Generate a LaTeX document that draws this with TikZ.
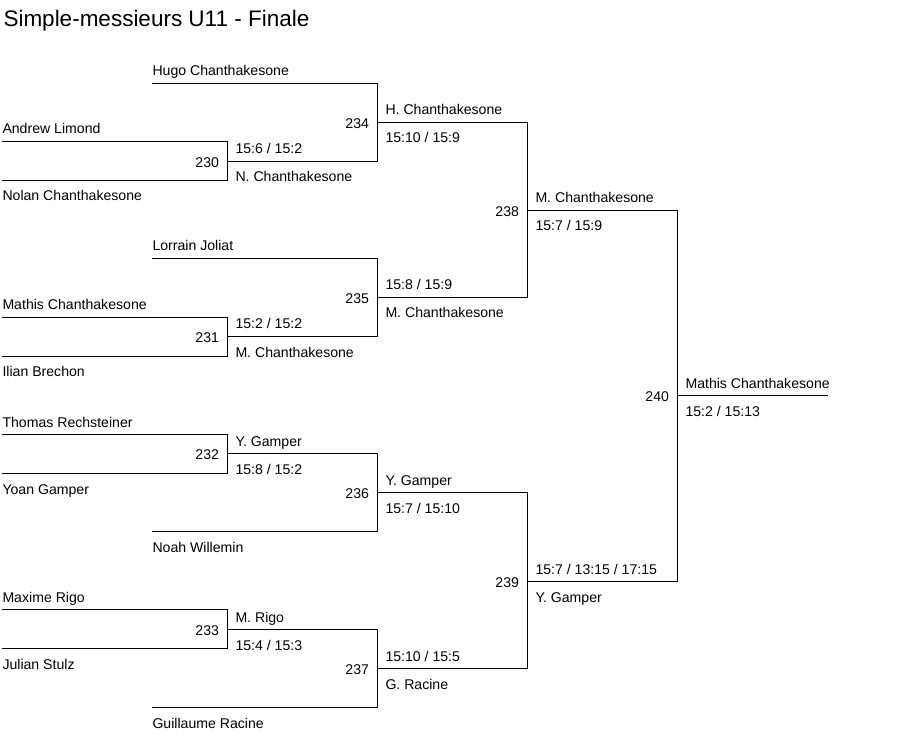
\documentclass[tikz,border=0pt]{standalone}
\usepackage{fontspec}
\setmainfont{Liberation Sans}
\usetikzlibrary{positioning}

\begin{document}
\begin{tikzpicture}[x=1pt,y=-1pt,line width=1pt,
    lbl/.style={inner sep=0pt,text height=10pt,text depth=0pt,font=\fontsize{14.1}{16}\selectfont},
    num/.style={lbl,yshift=-1pt},
    elbow/.style={to path={-| (\tikztotarget)}}]
  \useasboundingbox (0,0) rectangle (903,738);
  \node[anchor=base west,inner sep=0pt,font=\fontsize{22.5}{26}\selectfont] (title) at (3,26.5) {Simple-messieurs U11 - Finale};

  % players
  \coordinate (hugo) at (152,83.5);
  \coordinate (andrew) at (2,141.5);
  \coordinate (nolan) at (2,180.5);
  \coordinate (lorrain) at (152,258.5);
  \coordinate (mathis) at (2,317.5);
  \coordinate (ilian) at (2,356.5);
  \coordinate (thomas) at (2,434.5);
  \coordinate (yoan) at (2,473.5);
  \coordinate (noah) at (152,531.5);
  \coordinate (maxime) at (2,609.5);
  \coordinate (julian) at (2,648.5);
  \coordinate (guillaume) at (152,707.5);

  % matches
  \coordinate (m230) at (227.5,161.5);
  \coordinate (m231) at (227.5,336.5);
  \coordinate (m232) at (227.5,453.5);
  \coordinate (m233) at (227.5,629.5);
  \coordinate (m234) at (377.5,122.5);
  \coordinate (m235) at (377.5,297.5);
  \coordinate (m236) at (377.5,492.5);
  \coordinate (m237) at (377.5,668.5);
  \coordinate (m238) at (527.5,210.5);
  \coordinate (m239) at (527.5,581.5);
  \coordinate (m240) at (677.5,395.5);
  \coordinate (champ) at (827.5,395.5);

  \path
    (andrew) edge[elbow] (m230)
    (nolan) edge[elbow] (m230)
    (mathis) edge[elbow] (m231)
    (ilian) edge[elbow] (m231)
    (thomas) edge[elbow] (m232)
    (yoan) edge[elbow] (m232)
    (maxime) edge[elbow] (m233)
    (julian) edge[elbow] (m233)
    (hugo) edge[elbow] (m234)
    (m230) edge[elbow] (m234)
    (lorrain) edge[elbow] (m235)
    (m231) edge[elbow] (m235)
    (m232) edge[elbow] (m236)
    (noah) edge[elbow] (m236)
    (m233) edge[elbow] (m237)
    (guillaume) edge[elbow] (m237)
    (m234) edge[elbow] (m238)
    (m235) edge[elbow] (m238)
    (m236) edge[elbow] (m239)
    (m237) edge[elbow] (m239)
    (m238) edge[elbow] (m240)
    (m239) edge[elbow] (m240)
    (m240) edge (champ);

  % player names
  \node[lbl, above right=7pt and 0pt of hugo] (nhugo) {Hugo Chanthakesone};
  \node[lbl, above right=7pt and 0pt of andrew] (nandrew) {Andrew Limond};
  \node[lbl, below right=10pt and 0pt of nolan] (nnolan) {Nolan Chanthakesone};
  \node[lbl, above right=7pt and 0pt of lorrain] (nlorrain) {Lorrain Joliat};
  \node[lbl, above right=7pt and 0pt of mathis] (nmathis) {Mathis Chanthakesone};
  \node[lbl, below right=10pt and 0pt of ilian] (nilian) {Ilian Brechon};
  \node[lbl, above right=7pt and 0pt of thomas] (nthomas) {Thomas Rechsteiner};
  \node[lbl, below right=10pt and 0pt of yoan] (nyoan) {Yoan Gamper};
  \node[lbl, below right=10pt and 0pt of noah] (nnoah) {Noah Willemin};
  \node[lbl, above right=7pt and 0pt of maxime] (nmaxime) {Maxime Rigo};
  \node[lbl, below right=10pt and 0pt of julian] (njulian) {Julian Stulz};
  \node[lbl, below right=10pt and 0pt of guillaume] (nguillaume) {Guillaume Racine};

  % match numbers
  \node[num, left=8pt of m230] (k230) {230};
  \node[num, left=8pt of m231] (k231) {231};
  \node[num, left=8pt of m232] (k232) {232};
  \node[num, left=8pt of m233] (k233) {233};
  \node[num, left=8pt of m234] (k234) {234};
  \node[num, left=8pt of m235] (k235) {235};
  \node[num, left=8pt of m236] (k236) {236};
  \node[num, left=8pt of m237] (k237) {237};
  \node[num, left=8pt of m238] (k238) {238};
  \node[num, left=8pt of m239] (k239) {239};
  \node[num, left=8pt of m240] (k240) {240};

  % winners and scores
  \node[lbl, above right=7pt and 7.5pt of m230] (s230) {15:6 / 15:2};
  \node[lbl, below right=10pt and 7.5pt of m230] (w230) {N. Chanthakesone};
  \node[lbl, above right=7pt and 7.5pt of m231] (s231) {15:2 / 15:2};
  \node[lbl, below right=10pt and 7.5pt of m231] (w231) {M. Chanthakesone};
  \node[lbl, above right=7pt and 7.5pt of m232] (w232) {Y. Gamper};
  \node[lbl, below right=10pt and 7.5pt of m232] (s232) {15:8 / 15:2};
  \node[lbl, above right=7pt and 7.5pt of m233] (w233) {M. Rigo};
  \node[lbl, below right=10pt and 7.5pt of m233] (s233) {15:4 / 15:3};
  \node[lbl, above right=7pt and 7.5pt of m234] (w234) {H. Chanthakesone};
  \node[lbl, below right=10pt and 7.5pt of m234] (s234) {15:10 / 15:9};
  \node[lbl, above right=7pt and 7.5pt of m235] (s235) {15:8 / 15:9};
  \node[lbl, below right=10pt and 7.5pt of m235] (w235) {M. Chanthakesone};
  \node[lbl, above right=7pt and 7.5pt of m236] (w236) {Y. Gamper};
  \node[lbl, below right=10pt and 7.5pt of m236] (s236) {15:7 / 15:10};
  \node[lbl, above right=7pt and 7.5pt of m237] (s237) {15:10 / 15:5};
  \node[lbl, below right=10pt and 7.5pt of m237] (w237) {G. Racine};
  \node[lbl, above right=7pt and 7.5pt of m238] (w238) {M. Chanthakesone};
  \node[lbl, below right=10pt and 7.5pt of m238] (s238) {15:7 / 15:9};
  \node[lbl, above right=7pt and 7.5pt of m239] (s239) {15:7 / 13:15 / 17:15};
  \node[lbl, below right=10pt and 7.5pt of m239] (w239) {Y. Gamper};
  \node[lbl, above right=7pt and 7.5pt of m240] (w240) {Mathis Chanthakesone};
  \node[lbl, below right=10pt and 7.5pt of m240] (s240) {15:2 / 15:13};
\end{tikzpicture}
\end{document}
